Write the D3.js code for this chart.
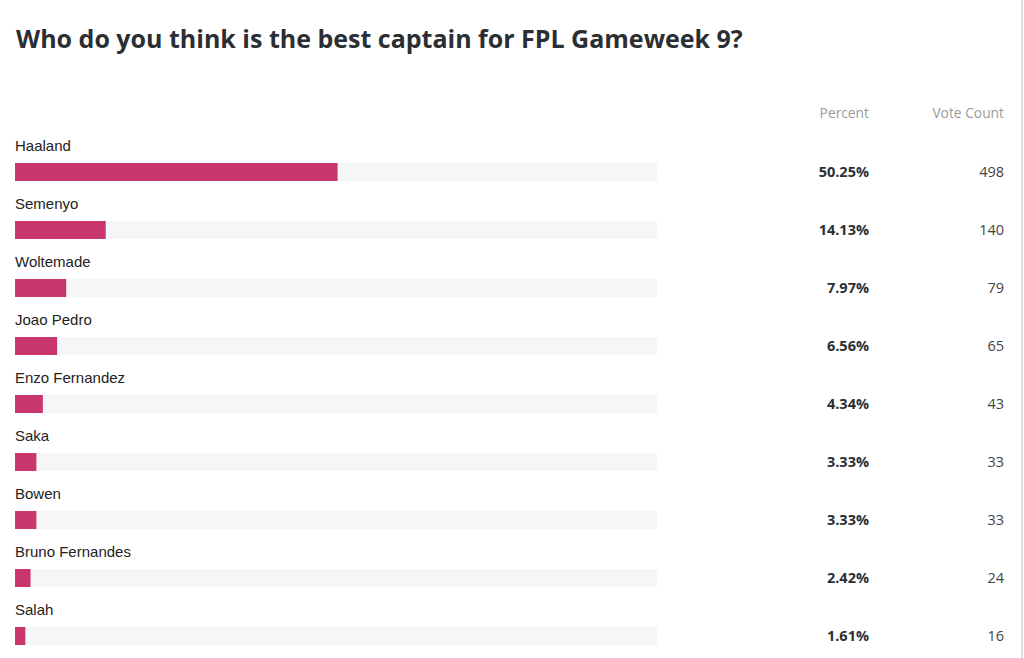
<!DOCTYPE html>
<html><head><meta charset="utf-8">
<script src="https://cdn.jsdelivr.net/npm/d3@7"></script>
<style>
html,body{margin:0;padding:0;background:#fff;overflow:hidden}
</style></head>
<body>
<svg id="chart" width="1024" height="658"></svg>
<script>
const categories = ["Haaland","Semenyo","Woltemade","Joao Pedro","Enzo Fernandez","Saka","Bowen","Bruno Fernandes","Salah"];
const percents = [50.25,14.13,7.97,6.56,4.34,3.33,3.33,2.42,1.61];
const votes = [498,140,79,65,43,33,33,24,16];
const columnHeaders = ["Percent","Vote Count"];
const title = "Who do you think is the best captain for FPL Gameweek 9?";

const svg = d3.select("#chart");
const rows = categories.map((c,i)=>({name:c,pct:percents[i],votes:votes[i]}));

const x = d3.scaleLinear().domain([0,100]).range([15,657]);
const y = d3.scaleBand().domain(categories).range([134,656]).paddingInner(0).paddingOuter(0);

svg.append("line").attr("x1",1022).attr("x2",1022).attr("y1",0).attr("y2",658)
  .attr("stroke","#dedede").attr("stroke-width",2);

svg.append("text").attr("x",16).attr("y",48).text(title)
  .attr("font-family","'Open Sans', sans-serif").attr("font-weight",700)
  .attr("font-size",25).attr("fill","#2b2f33");

const hdrX = [869,1004];
svg.selectAll("text.hdr").data(columnHeaders).join("text").attr("class","hdr")
  .attr("x",(d,i)=>hdrX[i]).attr("y",118).attr("text-anchor","end")
  .attr("font-family","'Open Sans', sans-serif").attr("font-size",13.8).attr("fill","#999b9e").text(d=>d);

const g = svg.selectAll("g.row").data(rows).join("g").attr("class","row")
  .attr("transform",d=>`translate(0,${y(d.name)})`);

g.append("text").attr("x",15).attr("y",17).text(d=>d.name)
  .attr("font-family","'Liberation Sans', Arial, sans-serif").attr("font-size",15).attr("fill","#222");

g.append("rect").attr("x",x(0)).attr("y",29).attr("width",x(100)-x(0)).attr("height",18).attr("fill","#f5f6f6");
g.append("rect").attr("x",x(0)).attr("y",29).attr("width",d=>x(d.pct)-x(0)).attr("height",18).attr("fill","#c9366d");

g.append("text").attr("x",869).attr("y",42.5).attr("text-anchor","end").text(d=>d.pct.toFixed(2)+"%")
  .attr("font-family","'Open Sans', sans-serif").attr("font-weight",700).attr("font-size",14.5).attr("fill","#2b2f33");
g.append("text").attr("x",1004).attr("y",42.5).attr("text-anchor","end").text(d=>d.votes)
  .attr("font-family","'Open Sans', sans-serif").attr("font-size",14.5).attr("fill","#444");
</script>
</body></html>
